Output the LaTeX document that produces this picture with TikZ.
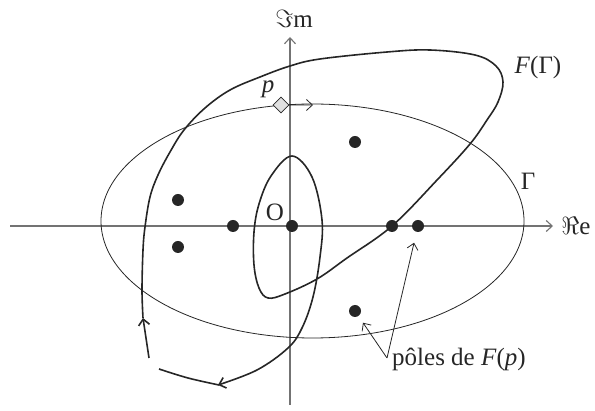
\documentclass[tikz,border=0pt]{standalone}
\usepackage{fontspec}
\setmainfont{Liberation Serif}
\usetikzlibrary{arrows.meta}
\begin{document}
\begin{tikzpicture}[x=1pt,y=-1pt,
  every node/.style={font=\fontsize{25}{29}\selectfont, inner sep=0pt, text=black!85},
  barb/.style={-{Straight Barb[length=6pt,width=11pt]}},
  axis/.style={draw=black!55, line width=1.1pt, barb},
  fcurve/.style={draw=black!85, line width=1.6pt, line join=round},
  gcurve/.style={draw=black!85, line width=0.8pt},
  pole/.style={circle, fill=black!85, minimum size=12pt, inner sep=0pt},
  thinarrow/.style={draw=black!85, line width=0.8pt, barb}]
\useasboundingbox (0,0) rectangle (595,411);
% axes
\coordinate (axL) at (10,226);
\coordinate (axR) at (553,226);
\coordinate (ayB) at (290,405);
\coordinate (ayT) at (290,37);
\draw[axis] (axL) -- (axR);
\draw[axis] (ayB) -- (ayT);
% Gamma
\draw[gcurve] (312.5,221) ellipse [x radius=211.5, y radius=117];
% F(Gamma)
\coordinate (fa) at (149,358);
\coordinate (fb) at (143,318);
\draw[fcurve, barb] (fa) -- (fb);
\draw[fcurve, barb] plot[smooth, tension=0.6] coordinates {(143,318) (142,290) (143,250) (145,227) (150,197) (158,175) (170,152) (184,130) (205,108) (230,90) (260,77) (290,66) (320,59) (387,52) (430,50) (475,55) (496,66) (503,82) (498,102) (487,120) (470,144) (438,179) (392,226) (347,258) (317,279) (285,294) (268,298) (259,288) (254,265) (254,232) (259,204) (271,176) (292,156) (312,177) (322,220) (320,257) (313,297) (302,328) (288,348) (257,370) (218,385)};
\draw[fcurve] plot[smooth, tension=0.6] coordinates {(219,385) (188,378) (159,369)};
% p
\node[rectangle, draw=black!85, fill=black!12, line width=0.7pt, minimum size=11pt, rotate=45] (pd) at (281,105) {};
\coordinate (ptip) at (313,105);
\draw[thinarrow] (pd) -- (ptip);
% poles
\node[pole] (d1) at (355,142) {};
\node[pole] (d2) at (178,200) {};
\node[pole] (d3) at (178,247) {};
\node[pole] (d4) at (233,226) {};
\node[pole] (d5) at (292,226) {};
\node[pole] (d6) at (392,226) {};
\node[pole] (d7) at (418,226) {};
\node[pole] (d8) at (355,311) {};
% labels
\node (im) at (294,19) {$\Im$m};
\node (re) at (576,226) {$\Re$e};
\node (fg) at (538,67) {\textit{F}(Γ)};
\node (gam) at (528,181) {Γ};
\node (O) at (275,212) {O};
\node (plab) at (268,89) {\textit{p}};
\node[anchor=base west] (poles) at (392,366) {pôles de \textit{F}(\textit{p})};
\coordinate (pj) at (387,358);
\draw[thinarrow, shorten >=8pt] (pj) -- (d8);
\draw[thinarrow, shorten >=11pt] (pj) -- (d7);
\end{tikzpicture}
\end{document}
